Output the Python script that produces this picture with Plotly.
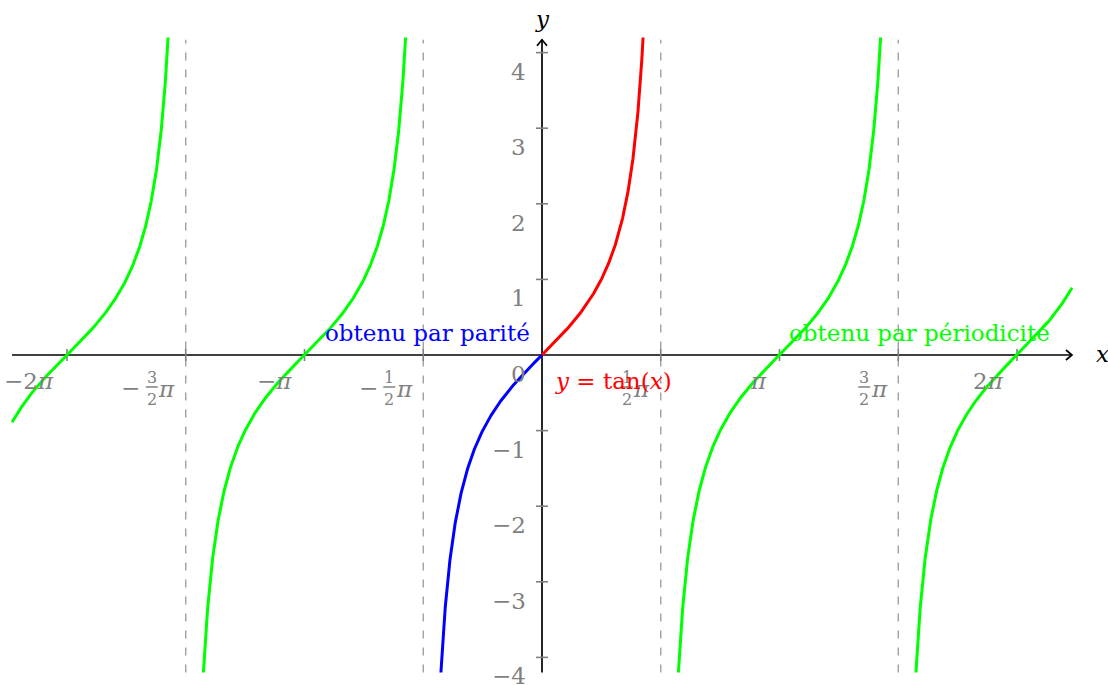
import numpy as np
import plotly.graph_objects as go

PI = np.pi

# ---- data ----
x_tick_multiples = [-2, -1.5, -1, -0.5, 0.5, 1, 1.5, 2]
x_tick_labels = ["−2π", "−3/2π", "−π", "−1/2π", "1/2π", "π", "3/2π", "2π"]
y_tick_values = [-4, -3, -2, -1, 1, 2, 3, 4]
y_tick_labels = ["−4", "−3", "−2", "−1", "1", "2", "3", "4"]
asymptote_multiples = [-1.5, -0.5, 0.5, 1.5]
green_branch_multiples = [-2, -1, 1, 2]
x_domain = [-7.01, 7.01]
y_clip = 4.2
y_axis_top = 4.17

FONT = "DejaVu Serif"
GRAY = "#808080"
GREEN = "#00ff00"
RED = "#ff0000"
BLUE = "#0000ff"
CURVE_W = 3

fig = go.Figure()


def branch(center, lo=None, hi=None):
    a = center - np.arctan(y_clip)
    b = center + np.arctan(y_clip)
    a = max(a, x_domain[0]) if lo is None else max(a, lo)
    b = min(b, x_domain[1]) if hi is None else min(b, hi)
    xs = np.linspace(a, b, 600)
    return xs, np.tan(xs)


for m in green_branch_multiples:
    xs, ys = branch(m * PI)
    fig.add_trace(go.Scatter(x=xs, y=ys, mode="lines",
                             line=dict(color=GREEN, width=CURVE_W), hoverinfo="skip"))
xs, ys = branch(0, hi=0)
fig.add_trace(go.Scatter(x=xs, y=ys, mode="lines",
                         line=dict(color=BLUE, width=CURVE_W), hoverinfo="skip"))
xs, ys = branch(0, lo=0)
fig.add_trace(go.Scatter(x=xs, y=ys, mode="lines",
                         line=dict(color=RED, width=CURVE_W), hoverinfo="skip"))

shapes = []
# asymptotes
for m in asymptote_multiples:
    shapes.append(dict(type="line", xref="x", yref="y", x0=m * PI, x1=m * PI,
                       y0=-y_clip, y1=y_axis_top,
                       line=dict(color="#999999", width=1.3, dash="8px,9px"),
                       layer="below"))
# x axis
shapes.append(dict(type="line", xref="x", yref="y", x0=x_domain[0], x1=x_domain[1],
                   y0=0, y1=0, line=dict(color="black", width=1.7), layer="below"))
shapes.append(dict(type="path", xref="x", yref="y", xsizemode="pixel", ysizemode="pixel",
                   xanchor=x_domain[1], yanchor=0, path="M -6,5 L 0,0 L -6,-5",
                   line=dict(color="black", width=1.7), layer="below"))
# y axis
shapes.append(dict(type="line", xref="x", yref="y", x0=0, x1=0,
                   y0=-y_clip, y1=y_axis_top, line=dict(color="black", width=1.7),
                   layer="below"))
shapes.append(dict(type="path", xref="x", yref="y", xsizemode="pixel", ysizemode="pixel",
                   xanchor=0, yanchor=y_axis_top, path="M -5,-6 L 0,0 L 5,-6",
                   line=dict(color="black", width=1.7), layer="below"))
# ticks
for m in x_tick_multiples:
    shapes.append(dict(type="line", xref="x", yref="y", ysizemode="pixel", yanchor=0,
                       x0=m * PI, x1=m * PI, y0=-6, y1=6,
                       line=dict(color=GRAY, width=1.6), layer="below"))
for v in y_tick_values:
    shapes.append(dict(type="line", xref="x", yref="y", xsizemode="pixel", xanchor=0,
                       x0=-6, x1=6, y0=v, y1=v,
                       line=dict(color=GRAY, width=1.6), layer="below"))

annotations = []


def ann(text, x, y, xanchor="center", yanchor="middle", xshift=0, yshift=0,
        size=23, color=GRAY):
    annotations.append(dict(text=text, x=x, y=y, xref="x", yref="y", showarrow=False,
                            xanchor=xanchor, yanchor=yanchor, xshift=xshift,
                            yshift=yshift, font=dict(family=FONT, size=size, color=color)))


for m, lab in zip(x_tick_multiples, x_tick_labels):
    t = m * PI
    if "/" in lab:
        neg = lab.startswith("−")
        core = lab.lstrip("−").rstrip("π")
        num, den = core.split("/")
        if neg:
            ann("−", t, 0, xshift=-55, yshift=-33)
        ann(num, t, 0, xshift=-34, yshift=-22, size=16)
        ann(den, t, 0, xshift=-34, yshift=-44, size=16)
        shapes.append(dict(type="line", xref="x", yref="y", xsizemode="pixel",
                           ysizemode="pixel", xanchor=t, yanchor=0,
                           x0=-40, x1=-28, y0=-32, y1=-32,
                           line=dict(color=GRAY, width=1.5)))
        ann("<i>π</i>", t, 0, xshift=-19, yshift=-34)
    else:
        ann(lab.replace("π", "<i>π</i>"), t, 0, xanchor="right", xshift=-11, yshift=-26)

for v, lab in zip(y_tick_values, y_tick_labels):
    ann(lab, 0, v, xanchor="right", xshift=-14, yshift=-19)
ann("0", 0, 0, xanchor="right", xshift=-14, yshift=-19)

ann("obtenu par parité", 0, 0, xanchor="right", xshift=-10, yshift=22, color=BLUE)
ann("obtenu par périodicité", 5, 0, xanchor="center", xshift=-1, yshift=22, color=GREEN)
ann("<i>y</i> = tan(<i>x</i>)", 0, 0, xanchor="left", xshift=11, yshift=-26, color=RED)
ann("<i>x</i>", x_domain[1], 0, xanchor="left", xshift=22, yshift=1, color="black")
ann("<i>y</i>", 0, y_axis_top, xanchor="center", yshift=21, color="black")

W, H = 1108, 685
scale = 75.6
x0px, y0px = 542, 355
fig.update_layout(
    width=W, height=H, margin=dict(l=0, r=0, t=0, b=0),
    paper_bgcolor="white", plot_bgcolor="white", showlegend=False,
    xaxis=dict(visible=False, range=[-x0px / scale, (W - x0px) / scale], fixedrange=True),
    yaxis=dict(visible=False, range=[(y0px - H) / scale, y0px / scale], fixedrange=True),
    shapes=shapes, annotations=annotations,
)

fig.write_html("out.html", config={"displayModeBar": False},
               post_script="document.body.style.margin='0';")
